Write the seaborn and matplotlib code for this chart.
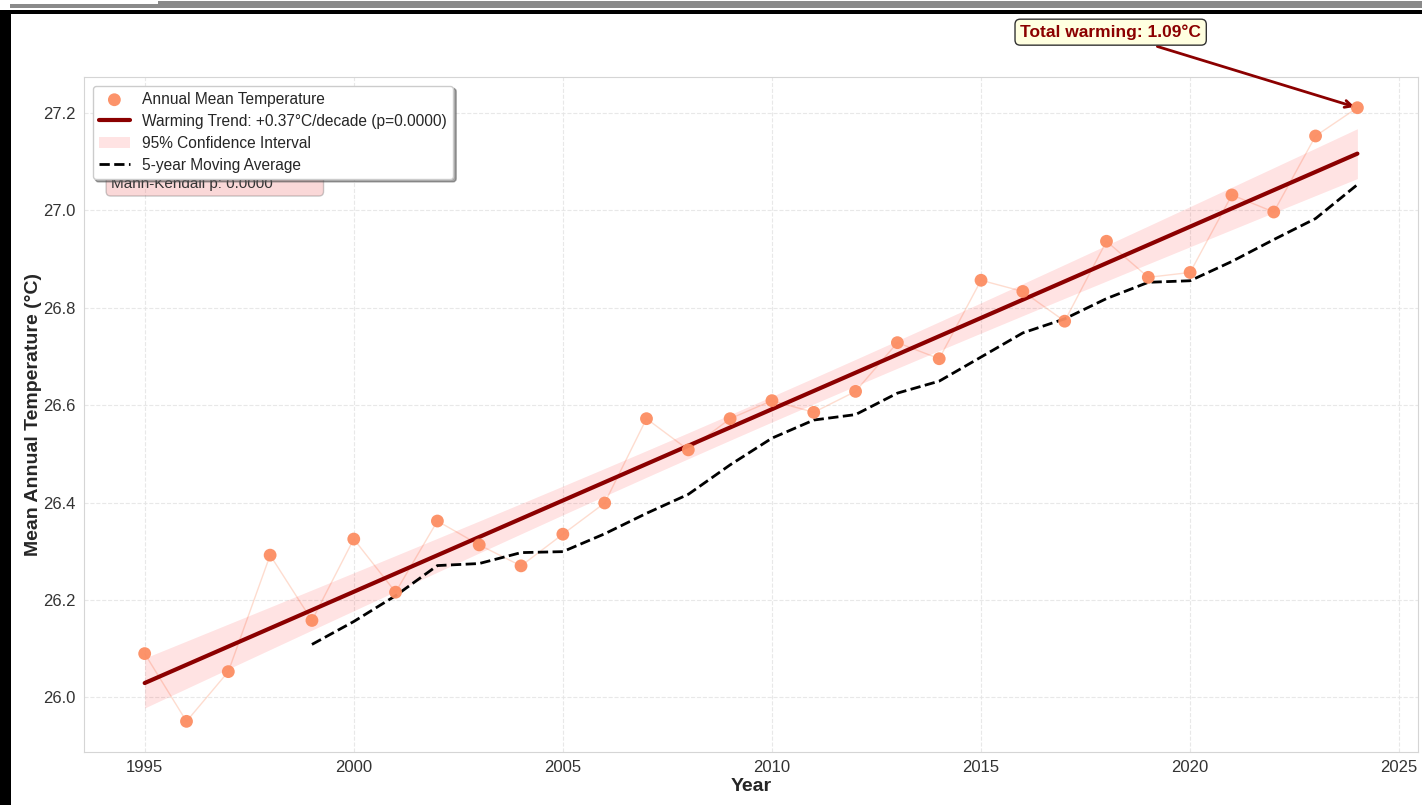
import numpy as np
import pandas as pd
import matplotlib
matplotlib.use("Agg")
import matplotlib.pyplot as plt
import seaborn as sns
from matplotlib.patches import Rectangle

# Annual mean temperature record
years = list(range(1995, 2025))
temps = [26.090, 25.951, 26.053, 26.292, 26.158, 26.325, 26.216, 26.362, 26.313, 26.270,
         26.335, 26.399, 26.572, 26.508, 26.572, 26.609, 26.585, 26.628, 26.728, 26.695,
         26.856, 26.833, 26.772, 26.936, 26.862, 26.872, 27.031, 26.996, 27.152, 27.210]

# Significance results of the trend tests
trend_p = 0.0
mann_kendall_p = 0.0
t_crit = 2.048  # two-sided 95% t value for 28 degrees of freedom

df = pd.DataFrame({"year": years, "temp": temps})
df["ma5"] = df["temp"].rolling(5).mean()

x = df["year"].to_numpy(dtype=float)
y = df["temp"].to_numpy()
slope, intercept = np.polyfit(x, y, 1)
fit = intercept + slope * x
resid = y - fit
n = len(x)
s_err = np.sqrt(np.sum(resid ** 2) / (n - 2))
se_mean = s_err * np.sqrt(1 / n + (x - x.mean()) ** 2 / np.sum((x - x.mean()) ** 2))
ci_lo = fit - t_crit * se_mean
ci_hi = fit + t_crit * se_mean
total_warming = slope * (x[-1] - x[0])

sns.set_style("whitegrid", {"grid.linestyle": "--", "axes.edgecolor": "#d0d0d0"})
plt.rcParams["font.family"] = ["Liberation Sans", "DejaVu Sans"]

fig = plt.figure(figsize=(14.22, 8.05), dpi=100)
ax = fig.add_axes([0.0591, 0.0658, 0.9381, 0.8385])

point_color = "#FC8D62"
ax.plot(x, y, color=point_color, alpha=0.3, lw=1, zorder=2)
sns.scatterplot(data=df, x="year", y="temp", ax=ax, color=point_color, s=85,
                edgecolor="none", alpha=0.95, zorder=4, label="Annual Mean Temperature")
sns.lineplot(x=x, y=fit, ax=ax, color="darkred", lw=3, zorder=3,
             label=f"Warming Trend: +{slope * 10:.2f}°C/decade (p={trend_p:.4f})")
ax.fill_between(x, ci_lo, ci_hi, color="red", alpha=0.11, lw=0, zorder=2,
                label="95% Confidence Interval")
sns.lineplot(data=df.dropna(), x="year", y="ma5", ax=ax, color="black", lw=2,
             linestyle="--", zorder=3, label="5-year Moving Average")

ax.grid(True, color="#e6e6e6", linestyle="--", linewidth=0.8, alpha=0.9)
for sp in ax.spines.values():
    sp.set_color("#d5d5d5")

ax.tick_params(axis="both", labelsize=12, colors="#333333", length=0, pad=6)
ax.set_xlabel("Year", fontsize=14, fontweight="bold", color="#262626", labelpad=2)
ax.set_ylabel("Mean Annual Temperature (°C)", fontsize=14, fontweight="bold",
              color="#262626", labelpad=1)
ax.set_xticks([1995, 2000, 2005, 2010, 2015, 2020, 2025])

# statistics box, tucked under the legend
stats_text = (f"Linear trend: +{slope * 10:.3f}°C/decade\n"
              f"Mann-Kendall p: {mann_kendall_p:.4f}")
ax.text(0.02, 0.8305, stats_text, transform=ax.transAxes,
        fontsize=11, va="bottom", ha="left", color="#333333", zorder=3,
        bbox=dict(boxstyle="round,pad=0.3", facecolor="lightcoral", alpha=0.3,
                  edgecolor="#555555"))

leg = ax.legend(loc="upper left", fontsize=11.2, frameon=True, fancybox=True, shadow=True,
                framealpha=1, borderaxespad=0.55, handlelength=2.0, labelspacing=0.45)
leg.set_zorder(6)
leg.get_frame().set_edgecolor("#cccccc")

ax.annotate(f"Total warming: {total_warming:.2f}°C", xy=(x[-1], y[-1]),
            xytext=(x[-1] - 5.9, y[-1] + 0.155), ha="center", va="center",
            fontsize=12.5, fontweight="bold", color="darkred",
            bbox=dict(boxstyle="round,pad=0.3", facecolor="lightyellow", edgecolor="#333333"),
            arrowprops=dict(arrowstyle="->", color="darkred", lw=2),
            annotation_clip=False)

# window frame around the figure
W, H = 1422, 805
frame = [
    (10, H - 8, 148, 4, "#8a8a8a"),
    (158, H - 8, W - 158, 7, "#8a8a8a"),
    (8, H - 14, W - 8, 4, "black"),
    (0, 0, 11, H - 10, "black"),
]
for fx, fy, fw, fh, fc in frame:
    fig.patches.append(Rectangle((fx / W, fy / H), fw / W, fh / H, transform=fig.transFigure,
                                 facecolor=fc, edgecolor="none", zorder=10))

fig.savefig("out.png", dpi=100)
